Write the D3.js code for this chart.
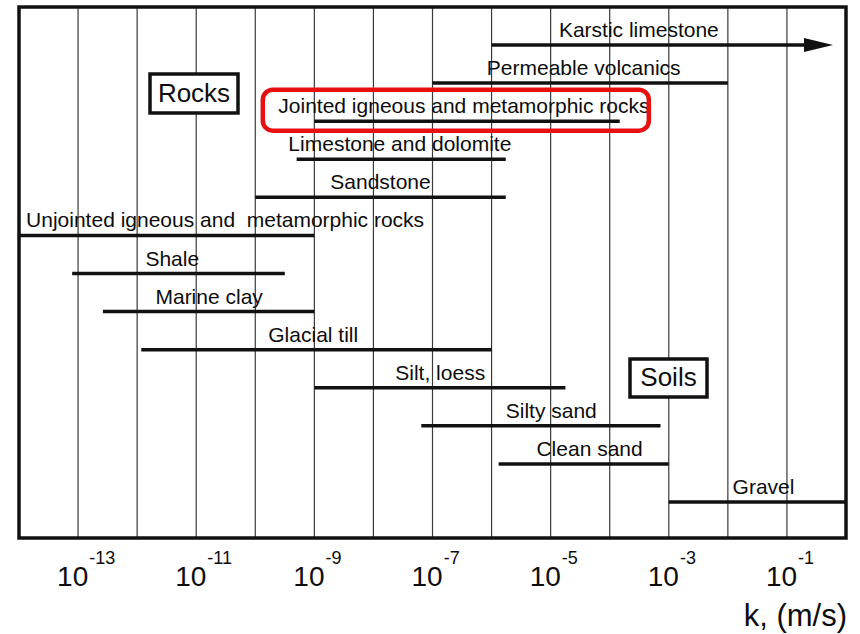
<!DOCTYPE html>
<meta charset="utf-8">
<style>
body { margin: 0; background: #fff; }
text { font-family: "Liberation Sans", Arial, sans-serif; fill: #0d0d0d; }
.grid line { stroke: #3a3a3a; stroke-width: 1.2px; }
.bars line { stroke: #111; stroke-width: 3.5px; }
</style>
<svg width="860" height="634"></svg>
<script src="https://d3js.org/d3.v7.min.js"></script>
<script>

// materials, top to bottom
var materials = ["Karstic limestone", "Permeable volcanics", "Jointed igneous and metamorphic rocks",
  "Limestone and dolomite", "Sandstone", "Unjointed igneous and  metamorphic rocks", "Shale",
  "Marine clay", "Glacial till", "Silt, loess", "Silty sand", "Clean sand", "Gravel"];
// log10 of k (m/s), range of each bar
var logKLow  = [-6, -7, -9, -9.3, -10, -14, -13.1, -12.58, -11.93, -9, -7.19, -5.88, -3];
var logKHigh = [-0.22, -2, -3.83, -5.76, -5.76, -9, -9.5, -9, -6, -4.75, -3.14, -3, 0];
// where each label starts (log10 k)
var labelLogK = [-4.86, -6.08, -9.61, -9.44, -8.73, -13.88, -11.86, -11.69, -9.78, -7.63, -5.76, -5.24, -1.92];
var arrowRows = ["Karstic limestone"];

var gridExponents = [-13, -12, -11, -10, -9, -8, -7, -6, -5, -4, -3, -2, -1];
var tickExponents = [-13, -11, -9, -7, -5, -3, -1];

var svg = d3.select("svg");

var plotLeft = 19, plotRight = 846, plotTop = 7, plotBottom = 538;

var x = d3.scaleLog().domain([1e-14, 1]).range([plotLeft, plotRight]);
var y = d3.scalePoint().domain(materials).range([45, 502]);

var rows = materials.map(function(m, i) {
  return {name: m, lo: Math.pow(10, logKLow[i]), hi: Math.pow(10, logKHigh[i]),
          lab: Math.pow(10, labelLogK[i]), arrow: arrowRows.indexOf(m) >= 0};
});

// vertical grid
svg.append("g").attr("class", "grid")
  .selectAll("line").data(gridExponents).enter().append("line")
  .attr("x1", function(d) { return x(Math.pow(10, d)); })
  .attr("x2", function(d) { return x(Math.pow(10, d)); })
  .attr("y1", plotTop).attr("y2", plotBottom);

// frame
svg.append("rect")
  .attr("x", plotLeft).attr("y", plotTop)
  .attr("width", plotRight - plotLeft).attr("height", plotBottom - plotTop)
  .attr("fill", "none").attr("stroke", "#111").attr("stroke-width", 3.5);

var arrowLen = 29;

// bars
svg.append("g").attr("class", "bars")
  .selectAll("line").data(rows).enter().append("line")
  .attr("x1", function(d) { return x(d.lo); })
  .attr("x2", function(d) { return d.arrow ? x(d.hi) - arrowLen : x(d.hi); })
  .attr("y1", function(d) { return y(d.name); })
  .attr("y2", function(d) { return y(d.name); });

svg.append("g")
  .selectAll("path").data(rows.filter(function(d) { return d.arrow; })).enter().append("path")
  .attr("d", function(d) {
    var tx = x(d.hi), ty = y(d.name);
    return "M" + tx + "," + ty + "L" + (tx - arrowLen) + "," + (ty - 7) +
           "L" + (tx - arrowLen) + "," + (ty + 7) + "Z";
  })
  .attr("fill", "#111");

// labels
svg.append("g")
  .selectAll("text").data(rows).enter().append("text")
  .attr("x", function(d) { return x(d.lab); })
  .attr("y", function(d) { return y(d.name) - 8; })
  .attr("font-size", "21px")
  .style("white-space", "pre")
  .text(function(d) { return d.name; });

// highlight round the jointed rocks row
var hl = rows[2];
svg.append("rect")
  .attr("x", x(hl.lab) - 15.5)
  .attr("y", y(hl.name) - 31.5)
  .attr("width", 386)
  .attr("height", 41)
  .attr("rx", 10)
  .attr("fill", "none")
  .attr("stroke", "#e8100f")
  .attr("stroke-width", 4.5);

// group boxes
function groupBox(label, bx, by, bw, bh) {
  svg.append("rect")
    .attr("x", bx).attr("y", by).attr("width", bw).attr("height", bh)
    .attr("fill", "#fff").attr("stroke", "#111").attr("stroke-width", 3.5);
  svg.append("text")
    .attr("x", bx + bw / 2).attr("y", by + bh - 11)
    .attr("text-anchor", "middle")
    .attr("font-size", "26px")
    .text(label);
}
groupBox("Rocks", 150, 74, 88, 39);
groupBox("Soils", 630, 359, 77, 38);

// tick labels 10^n
var ticks = svg.append("g").selectAll("text").data(tickExponents).enter().append("text")
  .attr("x", function(d) { return x(Math.pow(10, d)) - 21; })
  .attr("y", 586)
  .attr("font-size", "28px");
ticks.append("tspan").text("10");
ticks.append("tspan")
  .attr("dx", 1).attr("dy", -22)
  .attr("font-size", "18px")
  .text(function(d) { return d; });

svg.append("text")
  .attr("x", 847).attr("y", 626)
  .attr("text-anchor", "end")
  .attr("font-size", "31px")
  .text("k, (m/s)");

</script>
